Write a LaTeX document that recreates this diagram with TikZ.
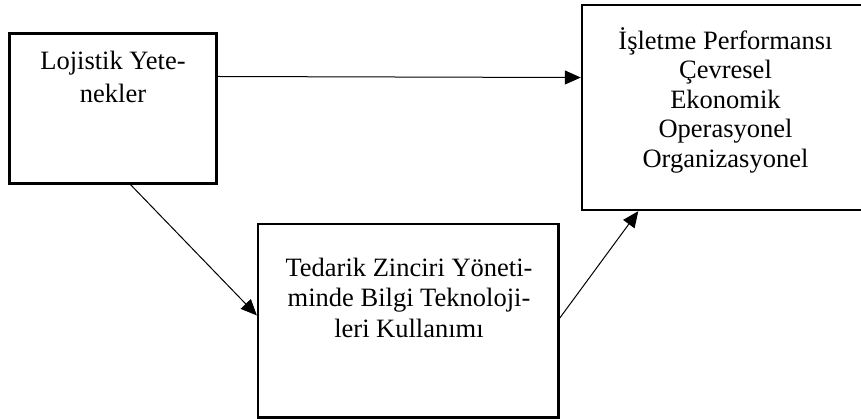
\documentclass[tikz,border=0pt]{standalone}
\usepackage{fontspec}
\setmainfont{Liberation Serif}
\usepackage{tikz}
\usetikzlibrary{arrows.meta}

\begin{document}
\begin{tikzpicture}[x=1pt,y=-1pt,
  kutu/.style={draw,line width=2.4pt,inner sep=0pt},
  yazi/.style={anchor=base,align=center,inner sep=0pt},
  ok/.style={line width=1pt,-{Triangle[length=16pt,width=14pt]}}]
\useasboundingbox (0,0) rectangle (861,418);
\node[kutu,minimum width=207,minimum height=150] (lojistik) at (113,108.5) {};
\node[kutu,minimum width=306,minimum height=205] (perf) at (735,107.5) {};
\node[kutu,minimum width=300.5,minimum height=193.5] (bilgi) at (408.3,320.7) {};
% base = son satir
\node[yazi,font=\fontsize{26.5}{33}\selectfont] (lojistikyazi) at (113,102) {Lojistik Yete-\\nekler};
\node[yazi,font=\fontsize{26.5}{29.5}\selectfont] (perfyazi) at (725.5,167) {İşletme Performansı\\Çevresel\\Ekonomik\\Operasyonel\\Organizasyonel};
\node[yazi,font=\fontsize{26.5}{30.5}\selectfont] (bilgiyazi) at (409,337) {Tedarik Zinciri Yöneti-\\minde Bilgi Teknoloji-\\leri Kullanımı};
\draw[ok] (lojistik.17)--(perf.169.5);
\draw[ok] (lojistik.283)--(bilgi.178.5);
\draw[ok] (bilgi.1)--(perf.227.8);
\end{tikzpicture}
\end{document}
